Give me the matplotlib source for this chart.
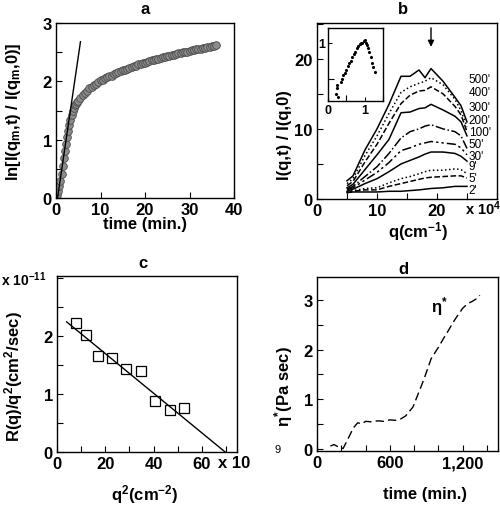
import matplotlib
matplotlib.use("Agg")
import matplotlib.pyplot as plt
from matplotlib.ticker import MultipleLocator, FixedLocator

plt.rcParams["font.family"] = ["Liberation Sans", "DejaVu Sans"]
plt.rcParams["font.weight"] = "bold"
plt.rcParams["mathtext.fontset"] = "custom"
plt.rcParams["mathtext.rm"] = "Liberation Sans:bold"
plt.rcParams["mathtext.it"] = "Liberation Sans:bold"
plt.rcParams["mathtext.bf"] = "Liberation Sans:bold"

# ── panel a: growth of ln I at q_m ────────────────────────────────────────────
t_a = [0, 0.25, 0.5, 0.75, 1, 1.25, 1.5, 1.75, 2, 2.25, 2.5, 2.75, 3, 3.25, 3.5,
       3.75, 4, 4.25, 4.5, 4.75, 5, 5.5, 6, 6.5, 7, 7.5, 8, 8.5, 9, 9.5, 10,
       10.5, 11, 11.5, 12, 12.5, 13, 13.5, 14, 14.5, 15, 15.5, 16, 16.5, 17,
       17.5, 18, 18.5, 19, 19.5, 20, 20.5, 21, 21.5, 22, 22.5, 23, 23.5, 24,
       24.5, 25, 25.5, 26, 26.5, 27, 27.5, 28, 28.5, 29, 29.5, 30, 30.5, 31,
       31.5, 32, 32.5, 33, 33.5, 34, 34.5, 35, 35.5, 36]
ln_a = [0.0, 0.05, 0.12, 0.2, 0.3, 0.42, 0.55, 0.68, 0.8, 0.93, 1.05, 1.15, 1.25,
        1.34, 1.42, 1.49, 1.55, 1.59, 1.62, 1.65, 1.67, 1.72, 1.76, 1.8, 1.84,
        1.88, 1.91, 1.94, 1.96, 1.99, 2.02, 2.03, 2.05, 2.07, 2.09, 2.1, 2.12,
        2.14, 2.16, 2.17, 2.19, 2.2, 2.22, 2.23, 2.25, 2.26, 2.27, 2.29, 2.3,
        2.31, 2.32, 2.33, 2.35, 2.36, 2.37, 2.38, 2.39, 2.4, 2.41, 2.42, 2.43,
        2.44, 2.45, 2.46, 2.47, 2.48, 2.49, 2.5, 2.5, 2.51, 2.52, 2.53, 2.54,
        2.55, 2.55, 2.56, 2.57, 2.58, 2.59, 2.59, 2.6, 2.61, 2.62]
fit_a_t = [0.35, 5.5]
fit_a_y = [0.0, 2.68]

# ── panel b: structure factor growth ─────────────────────────────────────────
q_b = [5, 6, 8, 10, 12, 14, 15.5, 17, 18, 19, 21, 23, 24, 25]
curves_b = {
    "500'": [2.6, 3.3, 7.0, 10.0, 13.5, 17.5, 17.5, 18.4, 17.3, 18.6, 16.8, 14.5, 13.3, 11.0],
    "400'": [2.2, 2.9, 6.2, 9.0, 12.2, 15.2, 16.0, 16.5, 16.8, 17.3, 16.3, 14.2, 12.6, 10.3],
    "300'": [1.9, 2.5, 5.3, 7.8, 10.8, 13.6, 14.8, 15.4, 15.5, 16.0, 15.0, 13.2, 12.0, 9.6],
    "200'": [1.6, 2.1, 4.2, 6.3, 8.5, 12.3, 12.4, 12.9, 13.0, 13.5, 12.7, 11.8, 11.0, 9.0],
    "100'": [1.4, 1.8, 3.2, 4.6, 6.5, 8.7, 9.6, 10.0, 10.4, 10.6, 10.0, 9.6, 9.0, 7.2],
    "50'":  [1.3, 1.6, 2.7, 3.8, 5.2, 6.9, 7.3, 7.8, 8.0, 8.2, 8.0, 7.8, 7.3, 6.3],
    "30'":  [1.1, 1.4, 2.2, 2.9, 3.9, 5.0, 5.5, 6.0, 6.4, 6.7, 6.7, 6.5, 6.1, 5.4],
    "9'":   [1.0, 1.2, 1.5, 1.6, 2.3, 2.9, 3.2, 3.6, 3.9, 4.1, 4.1, 4.3, 4.2, 3.6],
    "5'":   [0.9, 1.1, 1.3, 1.3, 1.8, 2.2, 2.5, 2.8, 3.0, 3.1, 3.2, 3.3, 3.3, 3.0],
    "2'":   [0.9, 1.0, 1.0, 1.0, 1.1, 1.1, 1.2, 1.3, 1.4, 1.5, 1.6, 1.8, 1.8, 1.8],
}
styles_b = ["-", ":", "--", "-", "-.", (0, (6, 2, 1.5, 2, 1.5, 2)), "-", ":", "--", "-"]
label_y_b = [17.1, 15.2, 13.1, 11.3, 9.6, 7.9, 6.2, 4.7, 3.0, 1.3]

# inset: scaled profile
q_in = [0.22, 0.24, 0.25, 0.27, 0.35, 0.38, 0.42, 0.45, 0.5, 0.55, 0.58, 0.62,
        0.66, 0.7, 0.74, 0.78, 0.82, 0.86, 0.9, 0.94, 0.97, 1.0, 1.03, 1.06,
        1.09, 1.12, 1.16, 1.2, 1.24, 1.28]
s_in = [0.3, 0.38, 0.42, 0.26, 0.46, 0.5, 0.55, 0.58, 0.62, 0.68, 0.72, 0.75,
        0.8, 0.84, 0.87, 0.92, 0.95, 0.98, 1.0, 1.0, 1.02, 1.03, 1.0, 0.97,
        0.92, 0.87, 0.8, 0.72, 0.66, 0.6]

# ── panel c: R(q)/q^2 vs q^2 ─────────────────────────────────────────────────
q2_c = [8.0, 12.1, 17.1, 22.6, 28.5, 34.6, 40.4, 46.6, 52.4]
rq_c = [2.22, 2.01, 1.66, 1.61, 1.43, 1.40, 0.87, 0.73, 0.75]
fit_c_x = [4.0, 69.6]
fit_c_y = [2.24, 0.0]

# ── panel d: complex viscosity ───────────────────────────────────────────────
t_d = [110, 140, 170, 215, 260, 300, 335, 370, 400, 450, 500, 550, 600, 650,
       690, 730, 790, 840, 880, 940, 1000, 1040, 1080, 1120, 1160, 1200, 1240,
       1280, 1320, 1340]
eta_d = [0.05, 0.08, 0.04, 0.0, 0.22, 0.42, 0.52, 0.5, 0.55, 0.54, 0.56, 0.55,
         0.58, 0.57, 0.6, 0.66, 0.84, 1.15, 1.4, 1.82, 2.05, 2.22, 2.38, 2.55,
         2.7, 2.84, 2.93, 2.98, 3.04, 3.1]

W, H = 500, 506


def box(l, t, r, b):
    return [l / W, 1 - b / H, (r - l) / W, (b - t) / H]


def ftext(px, py, s, **kw):
    fig.text(px / W, 1 - py / H, s, **kw)


def style(ax, xmaj, xmin, ymaj, ymin, size=12):
    ax.xaxis.set_major_locator(MultipleLocator(xmaj))
    ax.xaxis.set_minor_locator(MultipleLocator(xmin))
    ax.yaxis.set_major_locator(MultipleLocator(ymaj))
    ax.yaxis.set_minor_locator(MultipleLocator(ymin))
    ax.tick_params(which="both", direction="in", length=4, width=0.8,
                   labelsize=size, pad=3)
    for s in ax.spines.values():
        s.set_linewidth(1.0)


fig = plt.figure(figsize=(5.0, 5.06), dpi=100)

# a
ax = fig.add_axes(box(56, 24, 234, 199))
ax.plot(t_a, ln_a, "o", ms=5.5, mfc="#8c8c8c", mec="#4a4a4a", mew=0.6)
ax.plot(fit_a_t, fit_a_y, "-", color="black", lw=1.0)
ax.set_xlim(0, 40)
ax.set_ylim(0, 3)
style(ax, 10, 10, 1, 0.5)
ftext(145, 10, "a", ha="center", va="center", fontsize=12)
ftext(145, 225, "time (min.)", ha="center", va="center", fontsize=12)
ftext(14, 112, r"ln[I(q$_{\rm m}$,t) / I(q$_{\rm m}$,0)]", ha="center",
      va="center", rotation=90, fontsize=12)

# b
ax = fig.add_axes(box(317, 24, 497, 200))
for (lab, vals), ls, ly in zip(curves_b.items(), styles_b, label_y_b):
    ax.plot(q_b, vals, linestyle=ls, color="black", lw=1.1)
    ax.text(25.3, ly, lab, fontsize=8.5, fontweight="normal", va="center")
ax.annotate("", xy=(19, 21.3), xytext=(19, 24.8),
            arrowprops=dict(arrowstyle="-|>", color="black", lw=1.0,
                            mutation_scale=9))
ax.set_xlim(0, 30)
ax.set_ylim(0, 25.1)
style(ax, 10, 5, 10, 5)
ax.set_xticks([0, 10, 20])
ftext(403, 9, "b", ha="center", va="center", fontsize=12)
ftext(465, 209, r"x 10$^{4}$", ha="left", va="center", fontsize=10.5)
ftext(418, 232, r"q(cm$^{-1}$)", ha="center", va="center", fontsize=12)
ftext(285, 135, "I(q,t) / I(q,0)", ha="center", va="center", rotation=90,
      fontsize=12)

axi = fig.add_axes(box(328, 29, 383, 102))
axi.plot(q_in, s_in, ".", color="black", ms=2.5)
axi.set_xlim(0, 1.5)
axi.set_ylim(0.2, 1.2)
style(axi, 1, 0.5, 1, 0.5, size=9)
axi.tick_params(length=3, pad=2)

# c
ax = fig.add_axes(box(57, 277, 237, 453))
ax.plot(q2_c, rq_c, "s", ms=6.5, mfc="white", mec="black", mew=0.9)
ax.plot(fit_c_x, fit_c_y, "-", color="black", lw=1.0)
ax.set_xlim(0, 74.5)
ax.set_ylim(0, 3.03)
style(ax, 20, 10, 1, 0.5)
ax.yaxis.set_major_locator(FixedLocator([0, 1, 2]))
ftext(143, 264, "c", ha="center", va="center", fontsize=12)
ftext(1, 280, r"x 10$^{-11}$", ha="left", va="center", fontsize=10)
ftext(218, 464, "x 10", ha="left", va="center", fontsize=12)
ftext(278, 450, "9", ha="center", va="center", fontsize=8, fontweight="normal")
ftext(145, 495, r"q$^{2}$(cm$^{-2}$)", ha="center", va="center", fontsize=12)
ftext(14, 377, r"R(q)/q$^{2}$(cm$^{2}$/sec)", ha="center", va="center",
      rotation=90, fontsize=12)

# d
ax = fig.add_axes(box(317, 278, 498, 452))
ax.plot(t_d, eta_d, color="black", lw=1.0, linestyle=(0, (6, 3)))
ax.text(1010, 2.9, r"$\eta^{*}$", fontsize=12, ha="center", va="center",
        fontfamily="DejaVu Serif")
ax.set_xlim(0, 1490)
ax.set_ylim(-0.05, 3.47)
style(ax, 600, 200, 1, 0.5)
ax.set_xticks([0, 600, 1200])
ax.set_xticklabels(["0", "600", "1,200"])
ftext(403, 270, "d", ha="center", va="center", fontsize=12)
ftext(425, 495, "time (min.)", ha="center", va="center", fontsize=12)
ftext(284, 387, r"$\eta^{*}$(Pa sec)", ha="center", va="center", rotation=90,
      fontsize=12)

fig.savefig("out.png", dpi=100)
